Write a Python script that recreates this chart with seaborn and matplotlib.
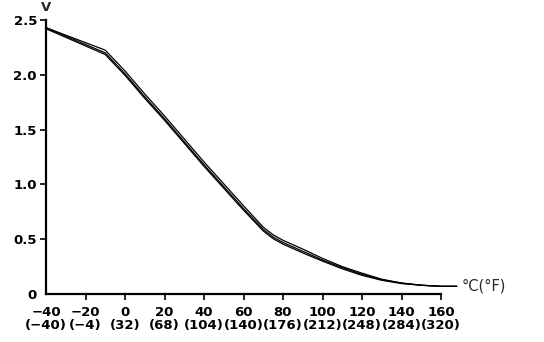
import matplotlib
matplotlib.use("Agg")
import matplotlib.pyplot as plt
import seaborn as sns
import pandas as pd

# Temperature (°C) and sensor output voltage (V) for three nearly overlapping curves
temp_c = [-40, -10, 0, 10, 20, 30, 40, 50, 60, 70, 75, 80, 90, 100, 110, 120, 130, 140, 150, 160, 168]
volt_mid = [2.43, 2.20, 2.01, 1.80, 1.60, 1.39, 1.18, 0.98, 0.78, 0.59, 0.52, 0.47, 0.39, 0.31, 0.24, 0.18, 0.13, 0.10, 0.08, 0.07, 0.07]
volt_upper = [2.43, 2.225, 2.035, 1.825, 1.625, 1.415, 1.205, 1.005, 0.805, 0.61, 0.54, 0.49, 0.41, 0.325, 0.25, 0.19, 0.135, 0.10, 0.08, 0.07, 0.07]
volt_lower = [2.42, 2.185, 1.995, 1.785, 1.585, 1.375, 1.165, 0.965, 0.765, 0.575, 0.505, 0.455, 0.375, 0.30, 0.23, 0.17, 0.125, 0.095, 0.08, 0.07, 0.07]

x_ticks = [-40, -20, 0, 20, 40, 60, 80, 100, 120, 140, 160]
x_tick_labels = ["\u221240\n(\u221240)", "\u221220\n(\u22124)", "0\n(32)", "20\n(68)", "40\n(104)",
                 "60\n(140)", "80\n(176)", "100\n(212)", "120\n(248)", "140\n(284)", "160\n(320)"]
y_ticks = [0, 0.5, 1.0, 1.5, 2.0, 2.5]
y_tick_labels = ["0", "0.5", "1.0", "1.5", "2.0", "2.5"]

df = pd.concat([
    pd.DataFrame({"temp": temp_c, "volt": volt_upper, "series": "upper"}),
    pd.DataFrame({"temp": temp_c, "volt": volt_mid, "series": "mid"}),
    pd.DataFrame({"temp": temp_c, "volt": volt_lower, "series": "lower"}),
])

sns.set_style("white")
plt.rcParams["font.family"] = ["DejaVu Sans"]

fig = plt.figure(figsize=(5.44, 3.42), dpi=100)
ax = fig.add_axes([46 / 544, 48 / 342, 395 / 544, 274 / 342])

sns.lineplot(data=df, x="temp", y="volt", hue="series", units="series", estimator=None,
             palette=["black", "black", "black"], linewidth=0.9, legend=False, sort=False, ax=ax)
for ln in ax.lines:
    ln.set_clip_on(False)

ax.set_xlim(-40, 160)
ax.set_ylim(0, 2.5)
ax.set_xlabel("")
ax.set_ylabel("")

ax.set_xticks(x_ticks)
ax.set_xticklabels(x_tick_labels, fontsize=9.5, fontweight="bold", linespacing=1.0)
ax.set_yticks(y_ticks)
ax.set_yticklabels(y_tick_labels, fontsize=9.5, fontweight="bold")

for side in ["top", "right"]:
    ax.spines[side].set_visible(False)
for side in ["left", "bottom"]:
    ax.spines[side].set_linewidth(1.6)
    ax.spines[side].set_color("black")

ax.tick_params(axis="x", direction="out", length=4, width=1.2, pad=5, colors="black", bottom=True)
ax.tick_params(axis="y", direction="out", length=4.5, width=1.2, pad=2, colors="black", left=True)
ax.yaxis.get_major_ticks()[0].tick1line.set_visible(False)
ax.xaxis.get_major_ticks()[0].tick1line.set_visible(False)

ax.annotate("V", xy=(0, 1), xycoords="axes fraction", xytext=(0, 4), textcoords="offset points",
            ha="center", va="bottom", fontsize=9.5, fontweight="bold")
ax.annotate("\u00b0C(\u00b0F)", xy=(1, 0), xycoords="axes fraction", xytext=(15, 6),
            textcoords="offset points", ha="left", va="center", fontsize=10.5)

fig.savefig("out.png", dpi=100, facecolor="white")
